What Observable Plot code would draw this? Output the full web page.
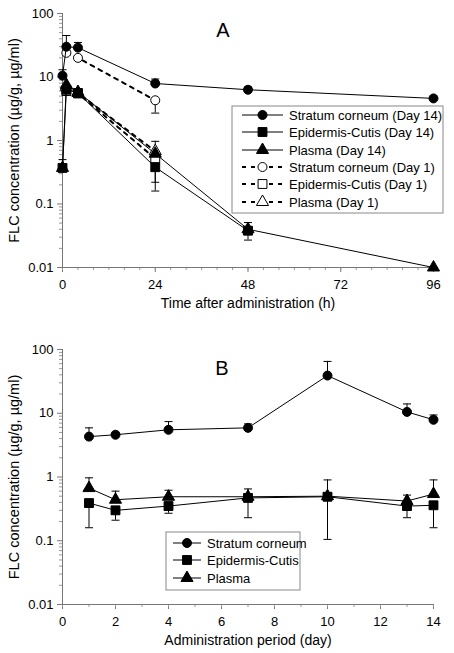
<!DOCTYPE html>
<html><head><meta charset="utf-8">
<script src="https://cdn.jsdelivr.net/npm/d3@7"></script>
<script src="https://cdn.jsdelivr.net/npm/@observablehq/plot@0.6"></script>
<style>
body{margin:0;background:#fff;}
#chart{width:454px;}
#chart svg{display:block;}
</style></head><body><div id="chart"></div>
<script>
// ---------- Panel A data (time in h) ----------
const timeD14 = [0, 1, 4, 24, 48, 96];
const scD14 = [10.5, 30, 29, 7.9, 6.3, 4.6];
const scD14Hi = [13, 45, 35, 9.3, 7.0, null];
const timeEpD14 = [0, 1, 4, 24, 48];
const epD14 = [0.37, 6.3, 5.6, 0.38, 0.038];
const epD14Hi = [0.5, null, null, null, 0.051];
const epD14Lo = [null, null, null, 0.16, 0.027];
const plD14 = [0.37, 7.5, 5.8, 0.62, 0.04, 0.01];
const timeD1 = [1, 4, 24];
const scD1 = [24, 20, 4.3];
const scD1Lo = [null, null, 2.7];
const epD1 = [6.0, 5.5, 0.52];
const epD1Lo = [null, null, 0.22];
const plD1 = [7.0, 5.6, 0.68];
const plD1Hi = [null, null, 0.97];
// ---------- Panel B data (day) ----------
const days = [1, 2, 4, 7, 10, 13, 14];
const scB = [4.3, 4.6, 5.5, 5.9, 39, 10.5, 7.9];
const scBHi = [5.9, null, 7.4, 6.8, 65, 14, 9.4];
const epB = [0.39, 0.30, 0.35, 0.47, 0.49, 0.35, 0.36];
const epBLo = [0.16, 0.21, 0.27, 0.23, 0.105, 0.23, 0.16];
const plB = [0.67, 0.44, 0.49, 0.49, 0.50, 0.42, 0.54];
const plBHi = [0.97, 0.60, 0.62, 0.65, 0.90, 0.52, 0.90];
// ---------- tick labels ----------
const yTicks = [0.01, 0.1, 1, 10, 100];
const yTickLabels = ["0.01", "0.1", "1", "10", "100"];
const xTicksA = [0, 24, 48, 72, 96];
const xTicksB = [0, 2, 4, 6, 8, 10, 12, 14];
const legendA = ["Stratum corneum (Day 14)", "Epidermis-Cutis (Day 14)", "Plasma (Day 14)",
                 "Stratum corneum (Day 1)", "Epidermis-Cutis (Day 1)", "Plasma (Day 1)"];
const legendB = ["Stratum corneum", "Epidermis-Cutis", "Plasma"];
const yTitle = "FLC concentration (µg/g, µg/ml)";
const xTitleA = "Time after administration (h)";
const xTitleB = "Administration period (day)";

const FONT = "'Liberation Sans', Arial, sans-serif";
const minorY = [];
for (let e = -2; e < 2; e++) for (let m = 2; m <= 9; m++) minorY.push(m * Math.pow(10, e));

const rows = (xs, ys) => xs.map((x, i) => ({x, y: ys[i]}));
const errRows = (xs, ys, ends) => xs.map((x, i) => ({x, y1: ys[i], y2: ends[i]})).filter(d => d.y2 != null);
const cap = {draw(ctx, size) { const w = Math.sqrt(size / Math.PI); ctx.moveTo(-w, 0); ctx.lineTo(w, 0); }};

function errMarks(data) {
  return [
    Plot.ruleX(data, {x: "x", y1: "y1", y2: "y2", stroke: "black", strokeWidth: 1}),
    Plot.dot(data, {x: "x", y: "y2", symbol: cap, r: 4, stroke: "black", strokeWidth: 1, fill: "none"})
  ];
}
function series(xs, ys, symbol, filled, dashed, r) {
  return [
    Plot.line(rows(xs, ys), {x: "x", y: "y", stroke: "black", strokeWidth: dashed ? 2 : 1,
      strokeDasharray: dashed ? "4,5" : null}),
    Plot.dot(rows(xs, ys), {x: "x", y: "y", symbol, r, fill: filled ? "black" : "white", stroke: "black", strokeWidth: 1})
  ];
}
function axes(xTicks, xMinor, xLabel) {
  return [
    Plot.axisY(yTicks, {tickSize: 5, tickPadding: 4, stroke: "#777", tickFormat: d => yTickLabels[yTicks.indexOf(d)],
      fontSize: 13, label: null}),
    Plot.axisY(minorY, {tickSize: 3, stroke: "#999", tickFormat: () => "", label: null}),
    Plot.axisX(xTicks, {tickSize: 5, tickPadding: 7, stroke: "#777", fontSize: 13, label: null}),
    Plot.axisX(xMinor, {tickSize: 3, stroke: "#999", tickFormat: () => "", label: null}),
    Plot.frame({anchor: "left", stroke: "#777"}),
    Plot.frame({anchor: "bottom", stroke: "#777"}),
    Plot.text([yTitle], {frameAnchor: "left", textAnchor: "middle", lineAnchor: "middle", rotate: -90, dx: -48,
      fontSize: 14.5, fontFamily: FONT}),
    Plot.text([xLabel], {frameAnchor: "bottom", textAnchor: "middle", lineAnchor: "middle", dy: 36,
      fontSize: 14, fontFamily: FONT})
  ];
}

const xMinorA = d3.range(0, 97, 4);
const plotA = Plot.plot({
  width: 454, height: 326, marginLeft: 62, marginRight: 21, marginTop: 13, marginBottom: 59,
  x: {domain: [0, 96]}, y: {type: "log", domain: [0.01, 100]},
  style: {fontFamily: FONT, fontSize: "13px", color: "black", background: "white", overflow: "visible"},
  marks: [
    ...axes(xTicksA, xMinorA, xTitleA),
    ...errMarks(errRows(timeD14, scD14, scD14Hi)),
    ...errMarks(errRows(timeEpD14, epD14, epD14Hi)),
    ...errMarks(errRows(timeEpD14, epD14, epD14Lo)),
    ...errMarks(errRows(timeD1, scD1, scD1Lo)),
    ...errMarks(errRows(timeD1, epD1, epD1Lo)),
    ...errMarks(errRows(timeD1, plD1, plD1Hi)),
    ...series(timeD1, scD1, "circle", false, true, 4.5),
    ...series(timeD1, epD1, "square", false, true, 5),
    ...series(timeD1, plD1, "triangle", false, true, 4.5),
    ...series(timeD14, plD14, "triangle", true, false, 4.5),
    ...series(timeEpD14, epD14, "square", true, false, 5),
    ...series(timeD14, scD14, "circle", true, false, 4.5),
    Plot.text(["A"], {frameAnchor: "top", dx: -25, dy: 9, fontSize: 20, fontFamily: FONT})
  ]
});

const xMinorB = d3.range(0, 15, 1);
const plotB = Plot.plot({
  width: 454, height: 327, marginLeft: 62, marginRight: 21, marginTop: 23, marginBottom: 49,
  x: {domain: [0, 14]}, y: {type: "log", domain: [0.01, 100]},
  style: {fontFamily: FONT, fontSize: "13px", color: "black", background: "white", overflow: "visible"},
  marks: [
    ...axes(xTicksB, xMinorB, xTitleB),
    ...errMarks(errRows(days, scB, scBHi)),
    ...errMarks(errRows(days, epB, epBLo)),
    ...errMarks(errRows(days, plB, plBHi)),
    ...series(days, plB, "triangle", true, false, 4.5),
    ...series(days, epB, "square", true, false, 5),
    ...series(days, scB, "circle", true, false, 4.5),
    Plot.text(["B"], {frameAnchor: "top", dx: -26, dy: 11, fontSize: 20, fontFamily: FONT})
  ]
});

const symMap = {circle: d3.symbolCircle, square: d3.symbolSquare, triangle: d3.symbolTriangle};
function legend(svg, box, labels, syms, dashed, lineX, textX, rowY) {
  const g = d3.select(svg).append("g").attr("font-family", FONT).attr("font-size", 13).attr("text-anchor", "start");
  g.append("rect").attr("x", box[0]).attr("y", box[1]).attr("width", box[2]).attr("height", box[3])
    .attr("fill", "white").attr("stroke", "#888");
  labels.forEach((lab, i) => {
    const y = rowY[i];
    g.append("line").attr("x1", lineX[0]).attr("x2", lineX[1]).attr("y1", y).attr("y2", y)
      .attr("stroke", "black").attr("stroke-width", dashed[i] ? 2 : 1).attr("stroke-dasharray", dashed[i] ? "4,5" : null);
    const sz = syms[i] === "square" ? 5 * 5 * Math.PI : 4.5 * 4.5 * Math.PI;
    g.append("path").attr("d", d3.symbol(symMap[syms[i]], sz)())
      .attr("transform", `translate(${(lineX[0] + lineX[1]) / 2},${y})`)
      .attr("fill", dashed[i] ? "white" : "black").attr("stroke", "black");
    g.append("text").attr("x", textX).attr("y", y).attr("dy", "0.35em").attr("text-anchor", "start").text(lab);
  });
}
legend(plotA, [232, 106, 211, 107], legendA,
  ["circle", "square", "triangle", "circle", "square", "triangle"],
  [false, false, false, true, true, true], [242, 283], 289, [115, 132, 150, 167, 184, 202]);
legend(plotB, [166, 206, 134, 58], legendB, ["circle", "square", "triangle"],
  [false, false, false], [173, 201], 207, [217, 234, 252]);

document.getElementById("chart").append(plotA, plotB);
</script></body></html>
